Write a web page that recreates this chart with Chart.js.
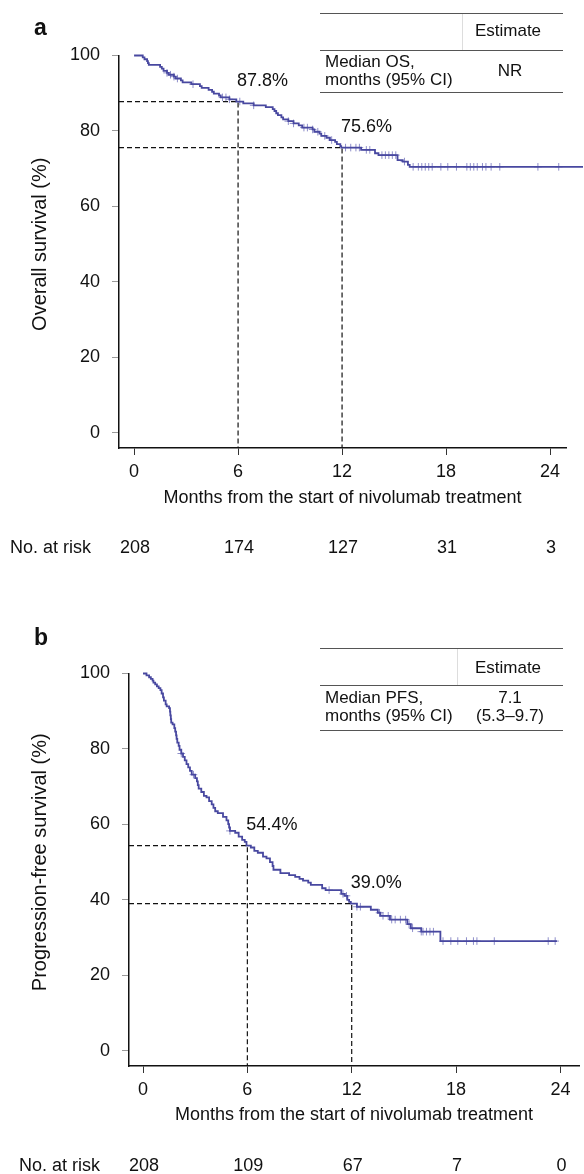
<!DOCTYPE html>
<html>
<head>
<meta charset="utf-8">
<script src="https://cdn.jsdelivr.net/npm/chart.js@4.4.1/dist/chart.umd.min.js"></script>
<style>
html,body{margin:0;padding:0;background:#fff;}
body{width:584px;height:1174px;position:relative;overflow:hidden;font-family:"Liberation Sans",Arial,Helvetica,sans-serif;color:#111;}
canvas{position:absolute;left:0;}
#ca{top:0;}
#cb{top:580px;}
.abs{position:absolute;white-space:nowrap;}
.letter{font-weight:bold;font-size:23px;line-height:26px;}
.hl{position:absolute;height:1.5px;background:#555;}
.vl{position:absolute;width:1px;background:#ddd;}
.t{position:absolute;white-space:nowrap;font-size:17px;line-height:20px;}
.c{text-align:center;}
</style>
</head>
<body>
<canvas id="ca" width="584" height="580"></canvas>
<canvas id="cb" width="584" height="594"></canvas>

<div class="abs letter" style="left:34px;top:14px;">a</div>
<div class="hl" style="left:320px;top:12.5px;width:243px;"></div>
<div class="vl" style="left:462px;top:14px;height:36px;"></div>
<div class="t c" style="left:458px;width:100px;top:21px;">Estimate</div>
<div class="hl" style="left:320px;top:49.5px;width:243px;"></div>
<div class="t" style="left:325px;top:52px;">Median OS,</div>
<div class="t" style="left:325px;top:70px;">months (95% CI)</div>
<div class="t c" style="left:460px;width:100px;top:61px;">NR</div>
<div class="hl" style="left:320px;top:91.5px;width:243px;"></div>

<div class="abs letter" style="left:34px;top:624px;">b</div>
<div class="hl" style="left:320px;top:647.5px;width:243px;"></div>
<div class="vl" style="left:457px;top:649px;height:36px;"></div>
<div class="t c" style="left:458px;width:100px;top:658px;">Estimate</div>
<div class="hl" style="left:320px;top:684.5px;width:243px;"></div>
<div class="t" style="left:325px;top:688px;">Median PFS,</div>
<div class="t" style="left:325px;top:706px;">months (95% CI)</div>
<div class="t c" style="left:460px;width:100px;top:688px;">7.1</div>
<div class="t c" style="left:460px;width:100px;top:706px;">(5.3–9.7)</div>
<div class="hl" style="left:320px;top:729.5px;width:243px;"></div>

<script>
// ---------- data ----------
const xTicks = [0, 6, 12, 18, 24];
const yTicks = [0, 20, 40, 60, 80, 100];

// Overall survival (panel a)
const osTime = [0, 0.5, 0.6, 0.75, 0.8, 0.85, 1.5, 1.6, 1.7, 1.9,
  2.0, 2.3, 2.4, 2.7, 2.8, 3.3, 3.8, 3.9, 4.3, 4.5,
  4.6, 4.9, 5.0, 5.5, 5.9, 6.3, 6.9, 7.6, 8.0, 8.1,
  8.2, 8.3, 8.5, 8.6, 8.9, 9.2, 9.5, 9.7, 10.3, 10.4,
  10.7, 10.8, 11.1, 11.3, 11.6, 11.7, 11.9, 11.95, 13.1, 13.9,
  14.1, 15.2, 15.5, 15.8, 15.9];
const osSurv = [100, 99.5, 99.0, 98.5, 98.0, 97.5, 97.0, 96.5, 95.9, 95.4,
  94.9, 94.4, 93.9, 93.4, 92.9, 92.4, 91.9, 91.4, 90.9, 90.4,
  89.9, 89.4, 88.9, 88.4, 87.8, 87.3, 86.8, 86.3, 85.8, 85.3,
  84.7, 84.2, 83.6, 83.1, 82.6, 82.0, 81.5, 80.9, 80.4, 79.8,
  79.3, 78.7, 78.2, 77.6, 77.1, 76.5, 76.0, 75.6, 75.0, 74.1,
  73.6, 72.3, 71.9, 71.0, 70.5];
const osEnd = 25.9;
const osCensor = [1.9, 2.1, 2.3, 2.5, 3.4, 5.1, 5.3, 5.5, 6.1, 6.9,
  8.9, 9.2, 9.8, 10.0, 10.3, 10.6, 11.0, 11.4, 12.2, 12.5,
  12.8, 13.0, 13.4, 13.6, 14.3, 14.5, 14.7, 14.9, 15.1, 15.6,
  16.1, 16.4, 16.6, 16.8, 17.0, 17.2, 17.7, 18.1, 18.6, 19.2,
  19.4, 19.6, 19.8, 20.1, 20.3, 20.6, 21.1, 23.3, 24.5];
const osMarks = [6, 12];
const osMarkVals = [87.8, 75.6];
const osMarkLabels = ['87.8%', '75.6%'];
const osRisk = [208, 174, 127, 31, 3];

// Progression-free survival (panel b)
const pfsTime = [0, 0.2, 0.35, 0.45, 0.55, 0.6, 0.7, 0.8, 0.9, 1.0,
  1.07, 1.15, 1.2, 1.3, 1.36, 1.5, 1.55, 1.57, 1.6, 1.62,
  1.7, 1.8, 1.85, 1.9, 1.93, 1.97, 2.05, 2.1, 2.2, 2.3,
  2.4, 2.5, 2.6, 2.7, 2.8, 3.0, 3.1, 3.15, 3.2, 3.35,
  3.5, 3.65, 3.8, 3.95, 4.05, 4.15, 4.3, 4.6, 4.8, 4.9,
  4.95, 5.0, 5.3, 5.5, 5.7, 5.85, 5.95, 6.2, 6.4, 6.6,
  6.9, 7.1, 7.3, 7.45, 7.5, 7.9, 8.4, 8.75, 9.0, 9.2,
  9.5, 9.65, 10.3, 10.5, 11.4, 11.6, 11.75, 11.85, 11.95, 12.3,
  13.1, 13.5, 13.65, 14.2, 15.2, 15.4, 16.0, 17.1];
const pfsSurv = [100, 99.5, 99.0, 98.6, 98.1, 97.6, 97.1, 96.6, 96.1, 95.6,
  94.7, 93.7, 92.8, 91.8, 91.3, 90.8, 89.9, 88.9, 87.9, 87.0,
  86.5, 85.5, 84.6, 83.6, 82.7, 81.7, 80.8, 79.8, 78.8, 77.9,
  77.0, 76.0, 75.1, 74.2, 73.2, 72.3, 71.4, 70.4, 69.5, 68.6,
  67.6, 67.2, 66.2, 65.3, 64.4, 63.5, 63.0, 62.0, 61.1, 60.1,
  59.2, 58.3, 57.8, 56.8, 55.9, 55.4, 54.4, 53.9, 53.0, 52.5,
  51.5, 51.0, 50.0, 49.0, 48.0, 47.1, 46.6, 46.1, 45.6, 45.1,
  44.6, 44.0, 43.1, 42.6, 41.6, 41.1, 40.0, 39.5, 39.0, 38.2,
  37.4, 36.6, 35.8, 34.8, 33.6, 32.5, 31.6, 29.1];
const pfsEnd = 23.8;
const pfsCensor = [2.2, 2.9, 5.0, 10.7, 11.5, 11.7, 12.3, 12.5, 13.6, 13.8,
  14.1, 14.3, 14.5, 14.8, 15.1, 15.3, 15.5, 16.0, 16.1, 16.3,
  16.5, 16.7, 17.25, 17.7, 18.1, 18.6, 19.0, 19.2, 20.2, 23.3, 23.7];
const pfsMarks = [6, 12];
const pfsMarkVals = [54.4, 39.0];
const pfsMarkLabels = ['54.4%', '39.0%'];
const pfsRisk = [208, 109, 67, 7, 0];

// ---------- drawing ----------
const FONT = '"Liberation Sans", Arial, Helvetica, sans-serif';
const INK = '#111';
const LINE = '#4848a0';
Chart.defaults.font.family = FONT;
Chart.defaults.color = INK;

function stepValue(times, surv, t) {
  let v = surv[0];
  for (let i = 0; i < times.length; i++) if (times[i] <= t) v = surv[i];
  return v;
}

const kmExtras = {
  id: 'kmExtras',
  afterDraw(chart, args, o) {
    const {ctx, chartArea} = chart;
    const x = chart.scales.x, y = chart.scales.y;
    ctx.save();
    ctx.fillStyle = INK;
    ctx.font = '18px ' + FONT;
    ctx.textBaseline = 'middle';
    ctx.textAlign = 'left';
    o.marks.forEach((t, i) => {
      ctx.fillText(o.labels[i], x.getPixelForValue(t) - 1, y.getPixelForValue(o.vals[i]) - 21);
    });
    const ry = chartArea.bottom + 100;
    ctx.textAlign = 'center';
    o.riskTicks.forEach((t, i) => ctx.fillText(String(o.risk[i]), x.getPixelForValue(t) + 1, ry));
    ctx.textAlign = 'left';
    ctx.fillText('No. at risk', x.getPixelForValue(0) - 124, ry);
    // y-axis title, centred on the 0-100 range
    const cy = (y.getPixelForValue(yTicks[0]) + y.getPixelForValue(yTicks[yTicks.length - 1])) / 2;
    ctx.translate(40, cy);
    ctx.rotate(-Math.PI / 2);
    ctx.textAlign = 'center';
    ctx.font = '20px ' + FONT;
    ctx.fillText(o.yTitle, 0, 0);
    ctx.restore();
  }
};

function makeChart(id, c) {
  const km = c.times.map((t, i) => ({x: t, y: c.surv[i]}));
  km.push({x: c.end, y: c.surv[c.surv.length - 1]});
  const cens = c.censor.map(t => ({x: t, y: stepValue(c.times, c.surv, t)}));
  const datasets = [
    {data: km, stepped: true, borderColor: LINE, borderWidth: 1.8, pointRadius: 0, fill: false, clip: false, order: 0},
    {data: cens, showLine: false, pointStyle: 'cross', pointRadius: 3.8, borderColor: 'rgba(95,95,180,0.7)', borderWidth: 1, order: 1}
  ];
  c.marks.forEach((t, i) => {
    datasets.push({
      data: [{x: c.xMin, y: c.vals[i]}, {x: t, y: c.vals[i]}, {x: t, y: c.yMin}],
      borderColor: INK, borderWidth: 1.2, borderDash: [5, 3], pointRadius: 0, fill: false, order: 2
    });
  });
  return new Chart(document.getElementById(id), {
    type: 'line',
    data: {datasets},
    options: {
      responsive: false, animation: false, devicePixelRatio: 1,
      layout: {padding: {top: c.padTop, right: c.padRight, left: 0, bottom: 0}},
      plugins: {
        legend: {display: false}, tooltip: {enabled: false},
        kmExtras: {marks: c.marks, vals: c.vals, labels: c.labels, risk: c.risk, riskTicks: xTicks, yTitle: c.yTitle}
      },
      scales: {
        x: {
          type: 'linear', min: c.xMin, max: c.xMax,
          afterBuildTicks: s => { s.ticks = xTicks.map(v => ({value: v})); },
          afterFit: s => { s.height = c.xHeight; },
          grid: {drawOnChartArea: false, drawTicks: true, tickLength: 7, color: '#333', lineWidth: 1},
          border: {display: true, color: INK, width: 1.5},
          ticks: {font: {size: 18}, color: INK, padding: 6, maxRotation: 0, autoSkip: false},
          title: {display: true, text: 'Months from the start of nivolumab treatment', font: {size: 18}, color: INK, padding: {top: 0, bottom: c.xTitlePad}}
        },
        y: {
          type: 'linear', min: c.yMin, max: 100,
          afterBuildTicks: s => { s.ticks = yTicks.map(v => ({value: v})); },
          afterFit: s => { s.width = c.yWidth; },
          grid: {drawOnChartArea: false, drawTicks: true, tickLength: 7, color: '#9a9a9a', lineWidth: 1},
          border: {display: true, color: INK, width: 1.5},
          ticks: {font: {size: 18}, color: INK, padding: 12},
          title: {display: false}
        }
      }
    },
    plugins: [kmExtras]
  });
}

makeChart('ca', {
  times: osTime, surv: osSurv, end: osEnd, censor: osCensor,
  marks: osMarks, vals: osMarkVals, labels: osMarkLabels, risk: osRisk,
  xMin: -0.87, xMax: 24.92, yMin: -4,
  padTop: 55.5, padRight: 18, xHeight: 132, yWidth: 119, xTitlePad: 71,
  yTitle: 'Overall survival (%)'
});
makeChart('cb', {
  times: pfsTime, surv: pfsSurv, end: pfsEnd, censor: pfsCensor,
  marks: pfsMarks, vals: pfsMarkVals, labels: pfsMarkLabels, risk: pfsRisk,
  xMin: -0.806, xMax: 25.07, yMin: -4,
  padTop: 93.5, padRight: 0, xHeight: 108, yWidth: 129, xTitlePad: 48,
  yTitle: 'Progression-free survival (%)'
});
</script>
</body>
</html>
